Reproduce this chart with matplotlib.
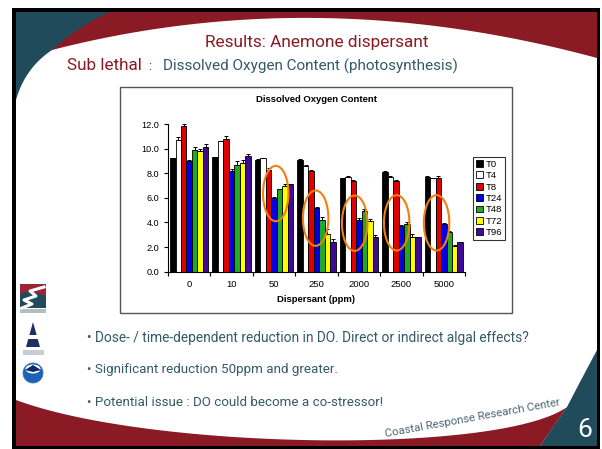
import numpy as np
import matplotlib
matplotlib.use("Agg")
import matplotlib.pyplot as plt
from matplotlib.patches import Polygon, Rectangle, Ellipse, Circle
from math import comb

# ---- data -----------------------------------------------------------------
doses = ["0", "10", "50", "250", "2000", "2500", "5000"]
times = ["T0", "T4", "T8", "T24", "T48", "T72", "T96"]

do_t0 = [9.2, 9.3, 9.1, 9.1, 7.6, 8.1, 7.7]
do_t4 = [10.7, 10.6, 9.2, 8.6, 7.7, 7.7, 7.6]
do_t8 = [11.8, 10.8, 8.3, 8.2, 7.4, 7.4, 7.6]
do_t24 = [9.0, 8.2, 6.0, 5.2, 4.2, 3.7, 3.9]
do_t48 = [9.9, 8.7, 6.7, 4.2, 4.9, 3.9, 3.2]
do_t72 = [9.8, 8.8, 7.0, 3.1, 4.1, 2.8, 2.1]
do_t96 = [10.1, 9.4, 7.1, 2.4, 2.8, 2.8, 2.4]

se_t0 = [0.05, 0.05, 0.05, 0.05, 0.05, 0.05, 0.05]
se_t4 = [0.24, 0.05, 0.05, 0.05, 0.05, 0.05, 0.05]
se_t8 = [0.19, 0.20, 0.10, 0.05, 0.05, 0.05, 0.20]
se_t24 = [0.10, 0.15, 0.08, 0.05, 0.15, 0.10, 0.05]
se_t48 = [0.20, 0.27, 0.05, 0.22, 0.20, 0.15, 0.10]
se_t72 = [0.20, 0.25, 0.15, 0.37, 0.22, 0.30, 0.05]
se_t96 = [0.27, 0.16, 0.05, 0.27, 0.22, 0.05, 0.05]

series = [do_t0, do_t4, do_t8, do_t24, do_t48, do_t72, do_t96]
errors = [se_t0, se_t4, se_t8, se_t24, se_t48, se_t72, se_t96]
colors = ["#000000", "#ffffff", "#e00000", "#0000e6", "#22aa22", "#ffff00", "#3f0a98"]

y_ticks = [0, 2, 4, 6, 8, 10, 12]

# highlighted groups: (group position, DO level) of the orange rings
ring_x = [2.04, 2.98, 3.90, 4.89, 5.83]
ring_y = [6.35, 4.35, 3.94, 3.97, 3.97]

bullets = [
    "\u2022 Dose- / time-dependent reduction in DO. Direct or indirect algal effects?",
    "\u2022 Significant reduction 50ppm and greater.",
    "\u2022 Potential issue : DO could become a co-stressor!",
]

# ---- slide canvas -----------------------------------------------------------
W, H = 602, 449
fig = plt.figure(figsize=(W / 100, H / 100), dpi=100)
fig.patch.set_facecolor("white")
bg = fig.add_axes([0, 0, 1, 1])
bg.set_xlim(0, W)
bg.set_ylim(H, 0)
bg.axis("off")

TEAL = "#1f4b5b"
RED = "#8a1a24"
TXT = "#34596a"


def bezier(pts, n=80):
    pts = np.asarray(pts, float)
    t = np.linspace(0, 1, n)[:, None]
    k = len(pts) - 1
    out = np.zeros((n, 2))
    for i, p in enumerate(pts):
        out += comb(k, i) * (1 - t) ** (k - i) * t ** i * p
    return out


bg.add_patch(Rectangle((12, 8), 588, 441, fc="black", ec="none"))
bg.add_patch(Rectangle((16, 12), 581, 434, fc="white", ec="none"))

# top band
top_curve = bezier([(52, 50), (316, -18), (597, 58)])
red_top = np.vstack([[(16, 12), (597, 12)], top_curve[::-1], [(16, 50)]])
bg.add_patch(Polygon(red_top, closed=True, fc=RED, ec="none"))
teal_top = np.vstack([[(16, 12)], bezier([(110, 12), (80, 25), (52, 50)]),
                      bezier([(52, 50), (25, 68), (16, 100)])])
bg.add_patch(Polygon(teal_top, closed=True, fc=TEAL, ec="none"))

# bottom band
bot_curve = bezier([(16, 400), (150, 450), (500, 455), (567, 407)])
red_bot = np.vstack([bot_curve, [(540, 446), (16, 446)]])
bg.add_patch(Polygon(red_bot, closed=True, fc=RED, ec="none"))
teal_bot = [(597, 350), (580, 382), (567, 407), (553, 427), (540, 446), (597, 446)]
bg.add_patch(Polygon(teal_bot, closed=True, fc=TEAL, ec="none"))

renderer = fig.canvas.get_renderer()


def fit_text(x, y, s, width, **kw):
    t = bg.text(x, y, s, fontsize=10, **kw)
    w = t.get_window_extent(renderer=renderer).width
    t.set_fontsize(10 * width / w)
    return t


SLIDE_FONT = ["Liberation Sans Narrow", "Roboto", "DejaVu Sans"]
fit_text(317, 43, "Results: Anemone dispersant", 225, ha="center", va="center",
         color=RED, family=SLIDE_FONT)
fit_text(67, 66, "Sub lethal", 75, ha="left", va="center", color=RED, family=SLIDE_FONT)
fit_text(148, 66, ":", 3, ha="left", va="center", color=RED, family=SLIDE_FONT)
fit_text(163, 66, "Dissolved Oxygen Content (photosynthesis)", 297, ha="left",
         va="center", color=TXT, family=SLIDE_FONT)

bullet_y = [338, 370, 402]
bullet_w = [443, 251, 295]
for s, yy, ww in zip(bullets, bullet_y, bullet_w):
    fit_text(87, yy, s, ww, ha="left", va="center", color=TXT, family=SLIDE_FONT)

t = fit_text(473, 418, "Coastal Response Research Center", 178, ha="center",
             va="center", color="#4d6873", family=SLIDE_FONT)
t.set_rotation(10.3)
t.set_rotation_mode("anchor")
bg.text(585, 430, "6", fontsize=19, ha="center", va="center", color="white",
        family=SLIDE_FONT)

# partner logos
bg.add_patch(Rectangle((20, 284), 26, 24, fc=TEAL, ec="none"))
bg.add_patch(Polygon([(20, 284), (46, 284), (46, 296), (30, 291), (20, 294)],
                     closed=True, fc="#9b2535", ec="none"))
bg.plot([44, 30, 36, 24, 32, 22], [287, 291, 296, 300, 304, 308], color="white", lw=2.2)
bg.add_patch(Rectangle((20, 309), 26, 4, fc="#b5bcc4", ec="none"))
bg.add_patch(Polygon([(33, 322), (26, 347), (40, 347)], closed=True, fc="#1f2e66", ec="none"))
bg.add_patch(Rectangle((28, 335), 10, 4, fc="white", ec="none"))
bg.add_patch(Rectangle((23, 350), 21, 5, fc="#c8ccd4", ec="none"))
bg.add_patch(Circle((33, 373), 10, fc="#1d62b5", ec="#3a7ac8", lw=0.6))
bg.add_patch(Ellipse((33, 369), 15, 9, fc="white", ec="none"))
bg.add_patch(Polygon([(25, 370), (33, 365), (41, 370), (33, 372)], closed=True,
                     fc="#0c2a66", ec="none"))

# chart frame
bg.add_patch(Rectangle((120, 87), 392, 226, fc="white", ec="#555555", lw=1.0))

# ---- chart ------------------------------------------------------------------
CHART_FONT = ["Liberation Sans", "DejaVu Sans"]
ax = fig.add_axes([168 / W, 1 - 271.7 / H, 297 / W, (271.7 - 124) / H])
ax.set_facecolor("none")

n = len(series)
w = 0.129
x = np.arange(len(doses))
handles = []
for k, (vals, errs, c, lab) in enumerate(zip(series, errors, colors, times)):
    pos = x + (k - (n - 1) / 2) * w
    b = ax.bar(pos, vals, width=w, color=c, edgecolor="black", linewidth=0.6,
               label=lab, zorder=2)
    ax.errorbar(pos, vals, yerr=[np.zeros(len(vals)), errs], fmt="none",
                ecolor="black", elinewidth=0.7, capsize=1.6, capthick=0.7, zorder=3)
    handles.append(b)

for cx, cy in zip(ring_x, ring_y):
    ax.add_patch(Ellipse((cx, cy), 0.6, 4.5, fc="none", ec="#f47f10", lw=1.5, zorder=4))

ax.set_xlim(-0.5, len(doses) - 0.5)
ax.set_ylim(0, 12)
ax.set_yticks(y_ticks)
ax.set_yticklabels([f"{v:.1f}" for v in y_ticks], family=CHART_FONT, fontsize=6.6)
ax.set_xticks(x)
ax.set_xticklabels(doses, family=CHART_FONT, fontsize=6.8)
ax.set_xticks(np.arange(-0.5, len(doses)), minor=True)
ax.tick_params(axis="x", which="major", length=0, pad=6)
ax.tick_params(axis="x", which="minor", length=3, width=0.8, direction="out")
ax.tick_params(axis="y", length=3, width=0.8, direction="out", pad=3)
for side in ("top", "right"):
    ax.spines[side].set_visible(False)
for side in ("left", "bottom"):
    ax.spines[side].set_linewidth(0.8)

bg.text(316, 99, "Dissolved Oxygen Content", ha="center", va="center",
        fontsize=6.8, fontweight="bold", family=CHART_FONT)
bg.text(316, 300, "Dispersant (ppm)", ha="center", va="center",
        fontsize=6.8, fontweight="bold", family=CHART_FONT)

leg = fig.legend(handles=handles, labels=times, loc="upper left",
                 bbox_to_anchor=(473 / W, 1 - 157 / H), borderaxespad=0,
                 frameon=True, fancybox=False, edgecolor="black",
                 prop={"family": CHART_FONT, "size": 6.8}, handlelength=0.75,
                 handleheight=0.75, handletextpad=0.25, labelspacing=0.25,
                 borderpad=0.3)
leg.get_frame().set_linewidth(0.8)

fig.savefig("out.png", dpi=100)
